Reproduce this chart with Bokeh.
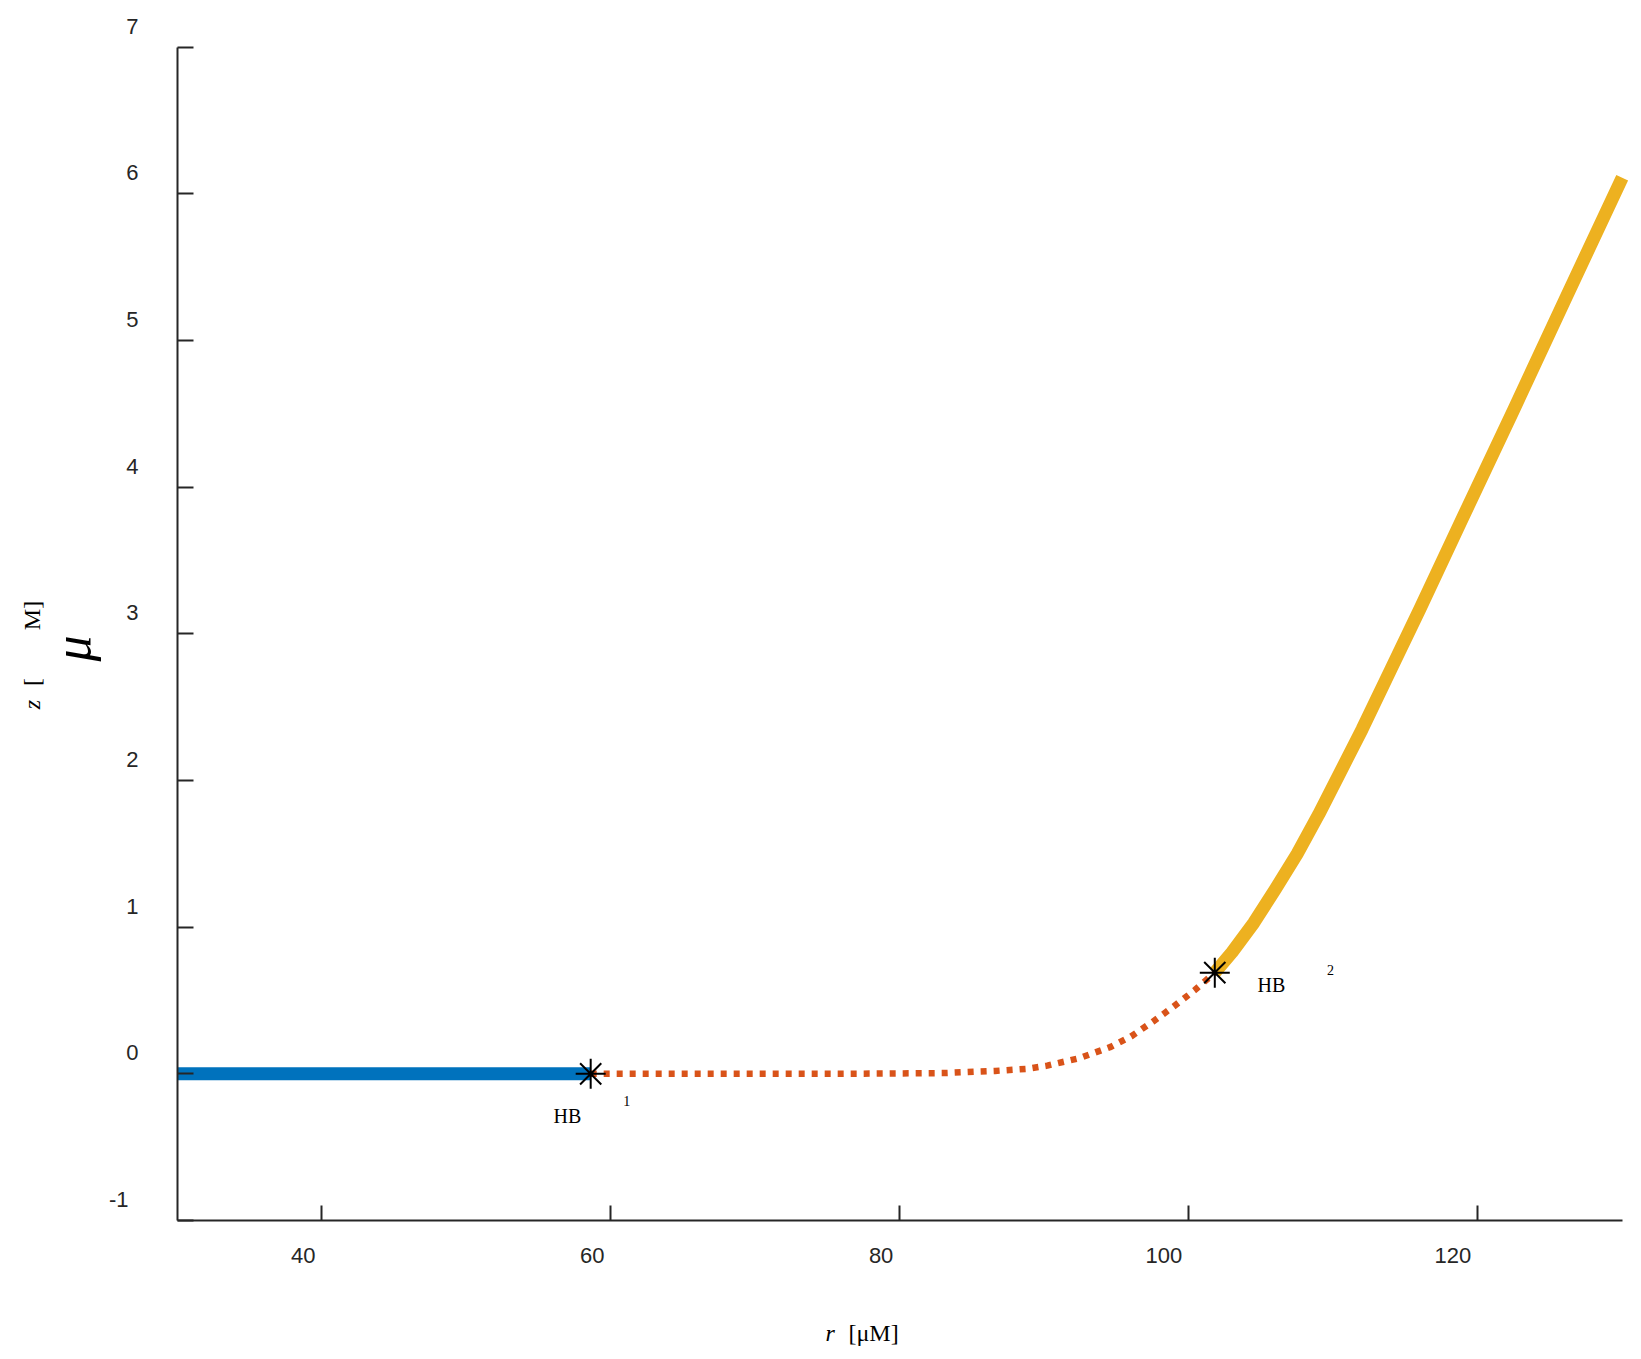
import math
from bokeh.plotting import figure
from bokeh.models import ColumnDataSource, LabelSet, Label, Range1d, FixedTicker
from bokeh.core.properties import value
from bokeh.embed import file_html
from bokeh.resources import INLINE

# ---------------- data ----------------
x_min, x_max = 30, 130
y_min, y_max = -1, 7
x_ticks = [40, 60, 80, 100, 120]
x_tick_labels = ["40", "60", "80", "100", "120"]
y_ticks = [-1, 0, 1, 2, 3, 4, 5, 6, 7]
y_tick_labels = ["-1", "0", "1", "2", "3", "4", "5", "6", "7"]

# stable steady state (blue)
stable_r = [30.0, 58.6]
stable_z = [0.0, 0.0]

# unstable steady state (red dotted)
unstable_r = [58.6, 65.0, 70.0, 75.7, 80.0, 83.0, 86.6, 88.8, 90.2, 92.4,
              94.6, 96.0, 97.5, 98.9, 100.4, 101.8]
unstable_z = [0.0, 0.0, 0.0, 0.0, 0.003, 0.005, 0.02, 0.034, 0.056, 0.106,
              0.184, 0.255, 0.355, 0.455, 0.57, 0.69]

# oscillation branch (yellow)
osc_r = [101.8, 103.0, 104.5, 106.0, 107.5, 109.0, 110.5, 112.0, 114.0,
         116.0, 119.0, 122.5, 126.0, 130.0]
osc_z = [0.69, 0.83, 1.03, 1.26, 1.50, 1.77, 2.06, 2.35, 2.76,
         3.17, 3.80, 4.53, 5.27, 6.11]

# Hopf bifurcation points
hb_r = [58.6, 101.8]
hb_z = [0.0, 0.69]

# ---------------- layout (pixels) ----------------
W, H = 1640, 1358
FR_L, FR_T, FR_R, FR_B = 10, 10, 5, 3          # borders around the frame
AX_L, AX_R, AX_T, AX_B = 177.0, 1621.7, 46.7, 1220.0   # where the axes sit
sx = (AX_R - AX_L) / (x_max - x_min)
sy = (AX_B - AX_T) / (y_max - y_min)
xr = Range1d(x_min - (AX_L - FR_L) / sx, x_max + ((W - FR_R) - AX_R) / sx)
yr = Range1d(y_min - ((H - FR_B) - AX_B) / sy, y_max + (AX_T - FR_T) / sy)

AX = "#262626"

p = figure(width=W, height=H, x_range=xr, y_range=yr,
           output_backend="svg", toolbar_location=None,
           min_border_left=FR_L, min_border_right=FR_R,
           min_border_top=FR_T, min_border_bottom=FR_B)
p.outline_line_color = None
p.grid.visible = False
p.background_fill_color = "white"
p.border_fill_color = "white"

p.xaxis.ticker = FixedTicker(ticks=x_ticks)
p.yaxis.ticker = FixedTicker(ticks=y_ticks)
p.xaxis.fixed_location = y_min
p.yaxis.fixed_location = x_min
p.xaxis.bounds = (x_min, x_max)
p.yaxis.bounds = (y_min, y_max)
for ax in (p.xaxis[0], p.yaxis[0]):
    ax.axis_line_width = 2
    ax.axis_line_color = AX
    ax.major_tick_line_width = 2
    ax.major_tick_line_color = AX
    ax.major_tick_out = 0
    ax.minor_tick_line_color = None
    ax.major_label_text_font_size = "0px"
    ax.major_label_text_color = None
    ax.major_label_standoff = 0
p.yaxis[0].major_tick_in = 16
p.xaxis[0].major_tick_in = 15

# curves
p.line(stable_r, stable_z, line_color="#0072BD", line_width=13)
p.line(unstable_r, unstable_z, line_color="#D95319", line_width=6.5,
       line_dash="6 7")
p.line(osc_r, osc_z, line_color="#EDB120", line_width=13, line_join="round")
p.scatter(hb_r, hb_z, marker="asterisk", size=30, line_color="black",
          line_width=2)

# tick labels (negative labels sit a little further left, as in the original)
y_dx = [-49 if t.startswith("-") else -39 for t in y_tick_labels]
ysrc = ColumnDataSource(dict(x=[x_min] * len(y_ticks), y=y_ticks,
                             t=y_tick_labels, dx=y_dx))
p.add_layout(LabelSet(x="x", y="y", text="t", source=ysrc,
                      x_offset="dx", y_offset=21,
                      text_align="right", text_baseline="middle",
                      text_font=value("Liberation Sans"),
                      text_font_size=value("22px"), text_color=AX))
xsrc = ColumnDataSource(dict(x=x_ticks, y=[y_min] * len(x_ticks), t=x_tick_labels))
p.add_layout(LabelSet(x="x", y="y", text="t", source=xsrc,
                      x_offset=-6.5, y_offset=-35,
                      text_align="right", text_baseline="middle",
                      text_font=value("Liberation Sans"),
                      text_font_size=value("22px"), text_color=AX))

SERIF = "Liberation Serif"

def lab(x, y, text, dx, dy, size, style="normal", angle=0.0,
        align="center", baseline="middle"):
    p.add_layout(Label(x=x, y=y, text=text, x_offset=dx, y_offset=dy,
                       text_font=SERIF, text_font_size=size,
                       text_font_style=style, angle=angle,
                       text_align=align, text_baseline=baseline,
                       text_color="black"))

# y axis label (rotated)
lab(x_min, y_min, "z", -146, 516, "24px", "italic", math.pi / 2)
lab(x_min, y_min, "[", -145.5, 538.5, "24px", "normal", math.pi / 2)
lab(x_min, y_min, "\u03bc", -105, 572, "52px", "italic", math.pi / 2)
lab(x_min, y_min, "M]", -146, 605, "24px", "normal", math.pi / 2)

# x axis label
lab(x_min, y_min, "r", 648, -112, "24px", "italic", 0.0, "left", "middle")
lab(x_min, y_min, "[\u03bcM]", 671, -112, "24px", "normal", 0.0, "left", "middle")

# Hopf labels
lab(hb_r[0], hb_z[0], "HB", -23.3, -42, "20px")
lab(hb_r[0], hb_z[0], "1", 36, -27, "14px")
lab(hb_r[1], hb_z[1], "HB", 56.7, -12.3, "20px")
lab(hb_r[1], hb_z[1], "2", 115.7, 2.7, "14px")

open("out.html", "w").write(file_html(p, INLINE))
